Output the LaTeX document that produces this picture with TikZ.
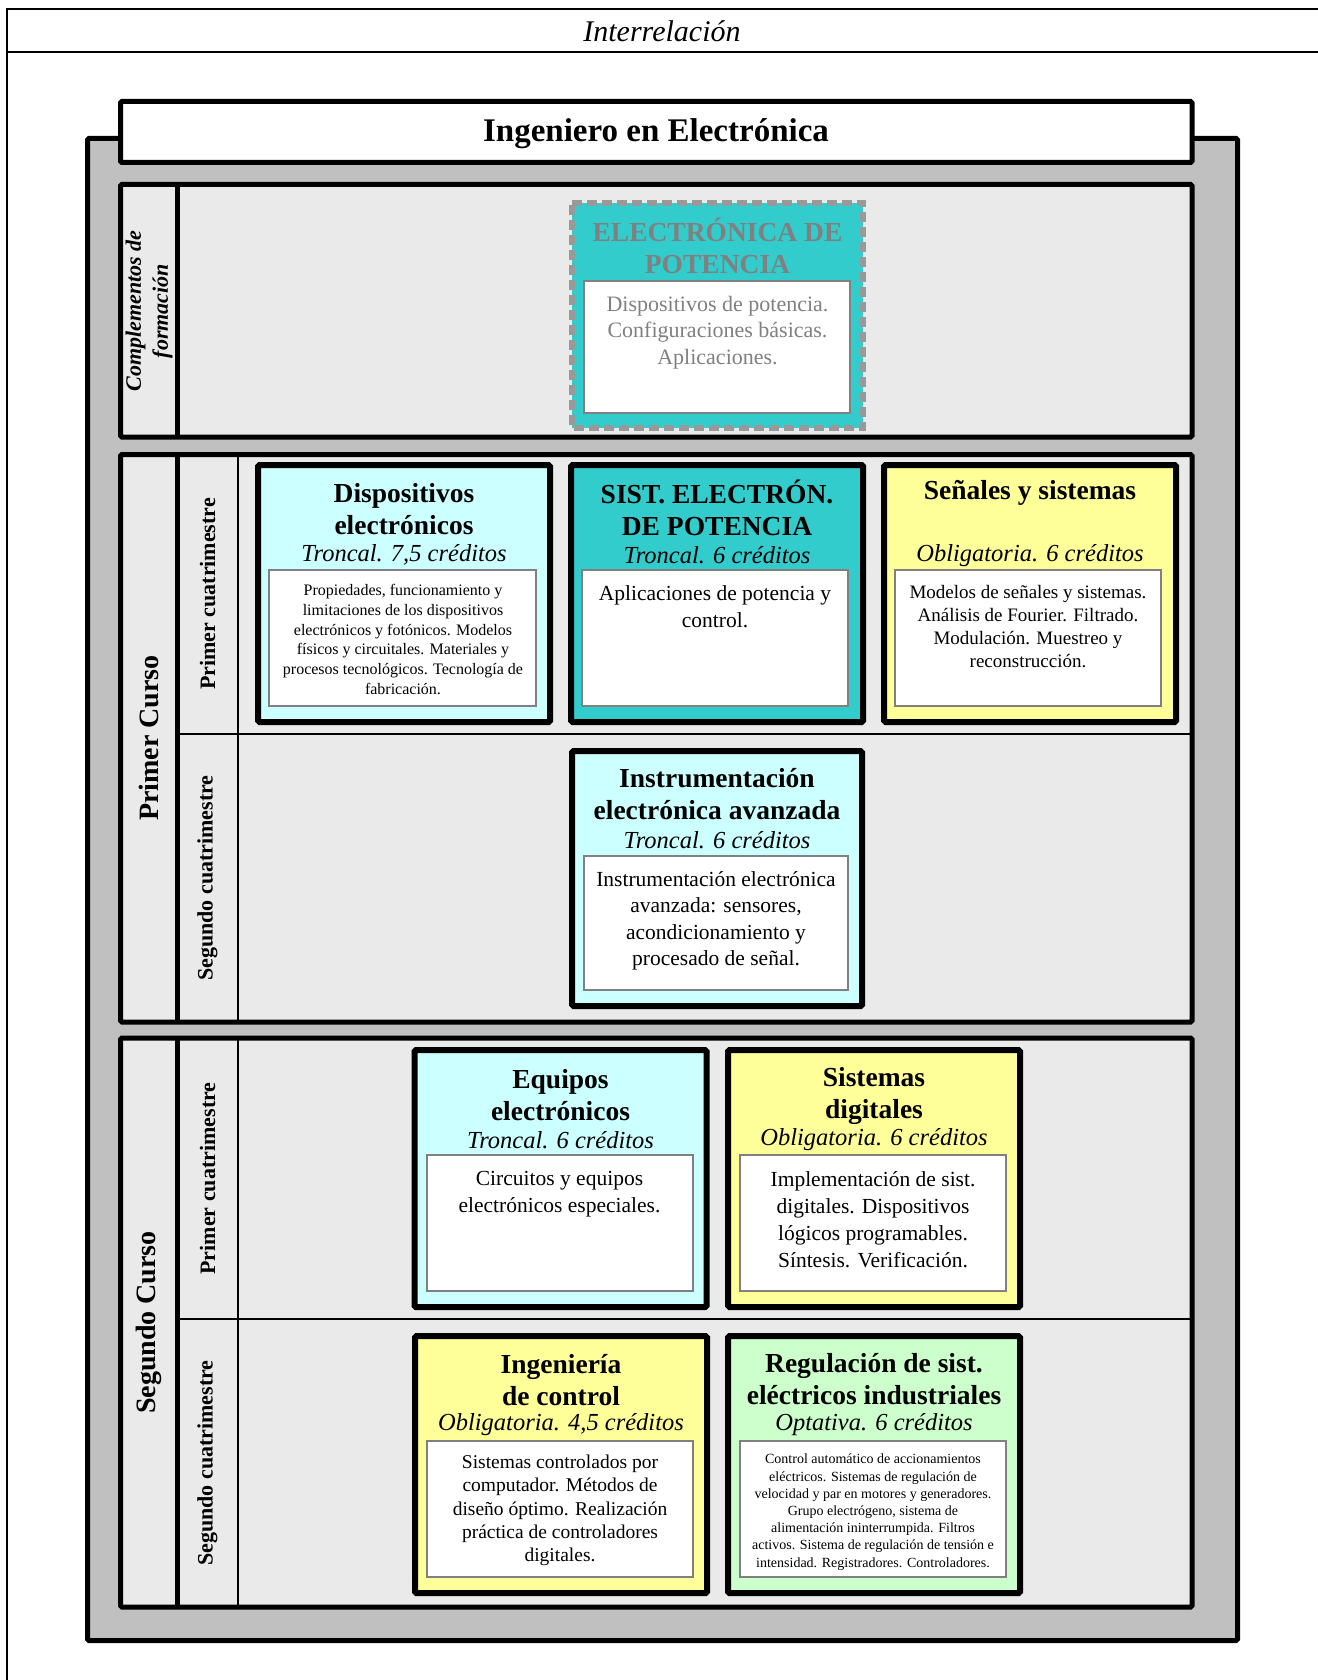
\documentclass[tikz,border=0pt]{standalone}
\usepackage{fontspec}
\setmainfont{Liberation Serif}
\definecolor{grismarco}{HTML}{C0C0C0}
\definecolor{grisbanda}{HTML}{EAEAEA}
\definecolor{celeste}{HTML}{CCFFFF}
\definecolor{turquesa}{HTML}{33CCCC}
\definecolor{amarillo}{HTML}{FFFF99}
\definecolor{verdeclaro}{HTML}{CCFFCC}
\definecolor{grisborde}{HTML}{808080}
\definecolor{grispunteado}{HTML}{999999}

\tikzset{
  marco/.style={draw=black, line width=5pt, rounded corners=1.5pt},
  asig/.style={draw=black, line width=6pt, rounded corners=1.5pt},
  interior/.style={draw=grisborde, line width=2pt, fill=white},
  divfina/.style={draw=black, line width=2pt},
  punteado/.style={draw=grispunteado, line width=5.5pt, dash pattern=on 10pt off 5pt},
  titulo/.style={align=center, font=\fontsize{27.5}{32}\selectfont\bfseries},
  creditos/.style={font=\fontsize{24.5}{28}\selectfont\itshape},
  texto/.style={align=center, anchor=north, inner sep=0pt},
  curso/.style={rotate=90, font=\fontsize{28}{32}\selectfont\bfseries},
  cuatri/.style={rotate=90, font=\fontsize{22}{26}\selectfont\bfseries}
}

\begin{document}
\begin{tikzpicture}[x=1pt,y=-1pt]
	\useasboundingbox (0,0) rectangle (1317,1680);
	% hoja
	\draw[line width=2pt] (1320,9.5) -- (6.5,9.5) -- (6.5,1685);
	\draw[line width=2pt] (6.5,52.5) -- (1320,52.5);
	\node[font=\fontsize{30}{34}\selectfont\itshape] (interrelacion) at (662,31) {Interrelación};
	
	% marco de la titulacion
	\draw[marco, fill=grismarco] (87.5,138.5) rectangle (1237.5,1640.5);
	\draw[marco, fill=white] (120.5,101.5) rectangle (1192,162.5);
	\node[font=\fontsize{33}{38}\selectfont\bfseries] (titulacion) at (656,134) {Ingeniero en Electrónica};
	
	% complementos de formacion
	\draw[marco, fill=grisbanda] (120.5,184.5) rectangle (1192,437);
	\draw[marco] (177.5,184.5) -- (177.5,437);
	\node[rotate=90, align=center, font=\fontsize{22}{27}\selectfont\bfseries\itshape] (complementos) at (149,311) {Complementos de\\formación};
	
	\fill[turquesa] (572,203) rectangle (863,428);
	\draw[punteado] (572,203) -- (863,203) -- (863,428) -- (572,428) -- cycle;
	\draw[interior] (584,281) rectangle (850,413);
	\node[titulo, text=grisborde] (edpTit) at (717.5,246) {ELECTRÓNICA DE\\POTENCIA};
	\node[texto, text=grisborde, font=\fontsize{22}{26.5}\selectfont] (edpDesc) at (717.5,296) {Dispositivos de potencia.\\Configuraciones básicas.\\Aplicaciones.};
	
	% primer curso
	\draw[marco, fill=grisbanda] (120.5,454.5) rectangle (1192,1022);
	\draw[divfina] (237.5,454.5) -- (237.5,1022);
	\draw[divfina] (177.5,734) -- (1192,734);
	\draw[marco] (177.5,454.5) -- (177.5,1022);
	\node[curso] (curso1) at (149,738) {Primer Curso};
	\node[cuatri] (curso1q1) at (207.5,594) {Primer cuatrimestre};
	\node[cuatri] (curso1q2) at (207.5,878) {Segundo cuatrimestre};
	
	\draw[asig, fill=celeste] (258,465) rectangle (550,722);
	\draw[interior] (269,570) rectangle (536,706);
	\node[titulo] (dispTit) at (404,509) {Dispositivos\\electrónicos};
	\node[creditos] (dispCred) at (404,555) {Troncal. 7,5 créditos};
	\node[texto, font=\fontsize{16}{19.8}\selectfont] (dispDesc) at (403,584) {Propiedades, funcionamiento y\\limitaciones de los dispositivos\\electrónicos y fotónicos. Modelos\\físicos y circuitales. Materiales y\\procesos tecnológicos. Tecnología de\\fabricación.};
	
	\draw[asig, fill=turquesa] (571,465) rectangle (863,722);
	\draw[interior] (582,570) rectangle (848,706);
	\node[titulo] (sepTit) at (717,508) {SIST. ELECTRÓN.\\DE POTENCIA};
	\node[creditos] (sepCred) at (717,555) {Troncal. 6 créditos};
	\node[texto, font=\fontsize{21.5}{27}\selectfont] (sepDesc) at (715,585) {Aplicaciones de potencia y\\control.};
	
	\draw[asig, fill=amarillo] (884,465) rectangle (1176,722);
	\draw[interior] (895,570) rectangle (1161,706);
	\node[titulo] (senTit) at (1030,493) {Señales y sistemas};
	\node[creditos] (senCred) at (1030,556) {Obligatoria. 6 créditos};
	\node[texto, font=\fontsize{19}{23}\selectfont] (senDesc) at (1028,585) {Modelos de señales y sistemas.\\Análisis de Fourier. Filtrado.\\Modulación. Muestreo y\\reconstrucción.};
	
	\draw[asig, fill=celeste] (572,751) rectangle (862,1006);
	\draw[interior] (584,856) rectangle (848,990);
	\node[titulo] (instTit) at (717,794) {Instrumentación\\electrónica avanzada};
	\node[creditos] (instCred) at (717,840) {Troncal. 6 créditos};
	\node[texto, font=\fontsize{21.5}{26.5}\selectfont] (instDesc) at (716,871) {Instrumentación electrónica\\avanzada: sensores,\\acondicionamiento y\\procesado de señal.};
	
	% segundo curso
	\draw[marco, fill=grisbanda] (120.5,1038) rectangle (1192,1607);
	\draw[divfina] (237.5,1038) -- (237.5,1607);
	\draw[divfina] (177.5,1319) -- (1192,1319);
	\draw[marco] (177.5,1038) -- (177.5,1607);
	\node[curso] (curso2) at (149,1322.5) {Segundo Curso};
	\node[cuatri] (curso2q1) at (207.5,1178.5) {Primer cuatrimestre};
	\node[cuatri] (curso2q2) at (207.5,1463) {Segundo cuatrimestre};
	
	\draw[asig, fill=celeste] (414.5,1050) rectangle (706.5,1307);
	\draw[interior] (426.5,1155) rectangle (692.5,1291);
	\node[titulo] (equTit) at (560.5,1095.5) {Equipos\\electrónicos};
	\node[creditos] (equCred) at (560.5,1140) {Troncal. 6 créditos};
	\node[texto, font=\fontsize{21.5}{27}\selectfont] (equDesc) at (559.5,1171) {Circuitos y equipos\\electrónicos especiales.};
	
	\draw[asig, fill=amarillo] (728,1050) rectangle (1020,1307);
	\draw[interior] (740,1155) rectangle (1006,1291);
	\node[titulo] (sdTit) at (874,1095.5) {Sistemas\\digitales};
	\node[creditos] (sdCred) at (874,1140) {Obligatoria. 6 créditos};
	\node[texto, font=\fontsize{21.5}{27}\selectfont] (sdDesc) at (873,1171) {Implementación de sist.\\digitales. Dispositivos\\lógicos programables.\\Síntesis. Verificación.};
	
	\draw[asig, fill=amarillo] (415,1336) rectangle (707,1593);
	\draw[interior] (427,1441) rectangle (693,1577);
	\node[titulo] (icTit) at (561,1380) {Ingeniería\\de control};
	\node[creditos] (icCred) at (561,1425) {Obligatoria. 4,5 créditos};
	\node[texto, font=\fontsize{19.5}{23.2}\selectfont] (icDesc) at (560,1455) {Sistemas controlados por\\computador. Métodos de\\diseño óptimo. Realización\\práctica de controladores\\digitales.};
	
	\draw[asig, fill=verdeclaro] (728,1336) rectangle (1020,1593);
	\draw[interior] (740,1441) rectangle (1006,1577);
	\node[titulo] (regTit) at (874,1379.5) {Regulación de sist.\\eléctricos industriales};
	\node[creditos] (regCred) at (874,1425) {Optativa. 6 créditos};
	\node[texto, font=\fontsize{14}{17.2}\selectfont] (regDesc) at (873,1454) {Control automático de accionamientos\\eléctricos. Sistemas de regulación de\\velocidad y par en motores y generadores.\\Grupo electrógeno, sistema de\\alimentación ininterrumpida. Filtros\\activos. Sistema de regulación de tensión e\\intensidad. Registradores. Controladores.};
\end{tikzpicture}
\end{document}
